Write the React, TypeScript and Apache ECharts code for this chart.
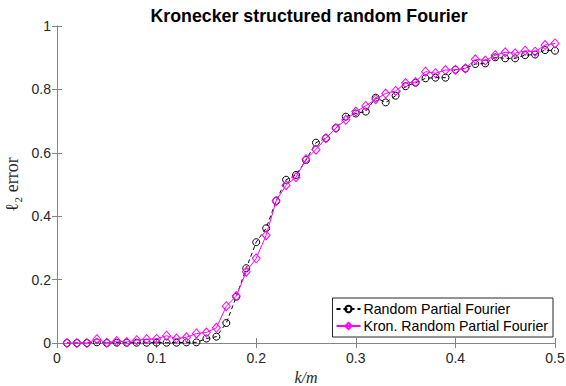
import React, { useEffect, useRef } from "react";
import * as echarts from "echarts";

const kOverM = [
  0.01, 0.02, 0.03, 0.04, 0.05, 0.06, 0.07, 0.08, 0.09, 0.1,
  0.11, 0.12, 0.13, 0.14, 0.15, 0.16, 0.17, 0.18, 0.19, 0.2,
  0.21, 0.22, 0.23, 0.24, 0.25, 0.26, 0.27, 0.28, 0.29, 0.3,
  0.31, 0.32, 0.33, 0.34, 0.35, 0.36, 0.37, 0.38, 0.39, 0.4,
  0.41, 0.42, 0.43, 0.44, 0.45, 0.46, 0.47, 0.48, 0.49, 0.5,
];

const randomPartialFourier = [
  0, 0, 0, 0.002, 0, 0.001, 0.001, 0.001, 0.001, 0.001,
  0.001, 0.001, 0.002, 0.002, 0.014, 0.02, 0.063, 0.146, 0.236, 0.318,
  0.362, 0.448, 0.515, 0.53, 0.577, 0.632, 0.646, 0.678, 0.714, 0.724,
  0.73, 0.774, 0.759, 0.78, 0.81, 0.821, 0.835, 0.837, 0.837, 0.862,
  0.866, 0.88, 0.882, 0.901, 0.898, 0.898, 0.908, 0.91, 0.924, 0.922,
];

const kronRandomPartialFourier = [
  0, 0, 0, 0.012, 0.001, 0.006, 0.003, 0.009, 0.012, 0.013,
  0.023, 0.014, 0.018, 0.03, 0.033, 0.048, 0.116, 0.148, 0.225, 0.267,
  0.34, 0.448, 0.498, 0.523, 0.58, 0.61, 0.646, 0.678, 0.704, 0.73,
  0.748, 0.769, 0.787, 0.795, 0.82, 0.823, 0.856, 0.851, 0.861, 0.862,
  0.866, 0.895, 0.891, 0.908, 0.917, 0.914, 0.922, 0.919, 0.94, 0.945,
];

const seriesNames = ["Random Partial Fourier", "Kron. Random Partial Fourier"];
const titleText = "Kronecker structured random Fourier";

const AXIS_COLOR = "#858585";
const TEXT_COLOR = "#262626";
const CLEAR = "rgba(0,0,0,0)";

export default function App() {
  const ref = useRef<HTMLDivElement>(null);

  useEffect(() => {
    if (!ref.current) return;
    const chart = echarts.init(ref.current, undefined, { renderer: "svg" });
    const fmt = (v: number) => String(+v.toFixed(1));
    const baseAxisLine = { show: true, lineStyle: { color: AXIS_COLOR, width: 1 } };
    const tick = { show: true, inside: true, length: 5, lineStyle: { color: AXIS_COLOR } };
    chart.setOption({
      animation: false,
      backgroundColor: "#ffffff",
      title: {
        text: titleText,
        left: 304,
        top: 2,
        textAlign: "center",
        textStyle: {
          fontFamily: "Liberation Sans, Arial, sans-serif",
          fontSize: 17.8,
          fontWeight: "bold",
          color: "#000",
        },
      },
      grid: {
        left: 57,
        right: 11,
        top: 26,
        bottom: 43,
        containLabel: false,
        outerBoundsMode: "none",
      },
      legend: {
        orient: "vertical",
        right: 13,
        bottom: 49,
        backgroundColor: "#ffffff",
        borderColor: "#262626",
        borderWidth: 1,
        borderRadius: 0,
        padding: [4, 5, 4, 3],
        itemGap: 3,
        itemWidth: 24,
        itemHeight: 8,
        textStyle: {
          fontFamily: "Liberation Sans, Arial, sans-serif",
          fontSize: 14.2,
          color: "#000",
          padding: [0, 0, 0, -2],
        },
        data: seriesNames,
      },
      xAxis: [
        {
          type: "value",
          min: 0,
          max: 0.5,
          interval: 0.1,
          name: "k/m",
          nameLocation: "middle",
          nameGap: 26,
          nameTextStyle: {
            fontFamily: "Liberation Serif, DejaVu Serif, serif",
            fontStyle: "italic",
            fontSize: 16,
            color: TEXT_COLOR,
          },
          axisLine: baseAxisLine,
          axisTick: tick,
          splitLine: { show: false },
          axisLabel: {
            formatter: fmt,
            fontFamily: "Liberation Sans, Arial, sans-serif",
            fontSize: 14,
            color: TEXT_COLOR,
            margin: 8,
          },
        },
        {
          type: "value",
          position: "top",
          min: 0,
          max: 0.5,
          interval: 0.1,
          axisLine: baseAxisLine,
          axisTick: tick,
          splitLine: { show: false },
          axisLabel: { show: false },
        },
      ],
      yAxis: [
        {
          type: "value",
          min: 0,
          max: 1,
          interval: 0.2,
          name: "ℓ₂ error",
          nameLocation: "middle",
          nameGap: 33,
          nameTextStyle: {
            fontFamily: "Liberation Serif, DejaVu Serif, serif",
            fontSize: 18,
            color: TEXT_COLOR,
          },
          axisLine: baseAxisLine,
          axisTick: tick,
          splitLine: { show: false },
          axisLabel: {
            formatter: fmt,
            fontFamily: "Liberation Sans, Arial, sans-serif",
            fontSize: 14,
            color: TEXT_COLOR,
            margin: 6,
          },
        },
        {
          type: "value",
          position: "right",
          min: 0,
          max: 1,
          interval: 0.2,
          axisLine: baseAxisLine,
          axisTick: tick,
          splitLine: { show: false },
          axisLabel: { show: false },
        },
      ],
      series: [
        {
          name: seriesNames[0],
          type: "line",
          data: kOverM.map((k, i) => [k, randomPartialFourier[i]]),
          symbol: "circle",
          symbolSize: 7,
          color: "#000000",
          lineStyle: { color: "#000000", width: 1, type: [4, 3] },
          itemStyle: { color: CLEAR, borderColor: "#000000", borderWidth: 1 },
          z: 2,
        },
        {
          name: seriesNames[1],
          type: "line",
          data: kOverM.map((k, i) => [k, kronRandomPartialFourier[i]]),
          symbol: "diamond",
          symbolSize: [8, 9],
          color: "#ff00ff",
          lineStyle: { color: "#ff00ff", width: 1 },
          itemStyle: { color: CLEAR, borderColor: "#ff00ff", borderWidth: 1 },
          z: 3,
        },
      ],
    });
    return () => chart.dispose();
  }, []);

  return (
    <div
      ref={ref}
      style={{ position: "fixed", left: 0, top: 0, width: 566, height: 386 }}
    />
  );
}
